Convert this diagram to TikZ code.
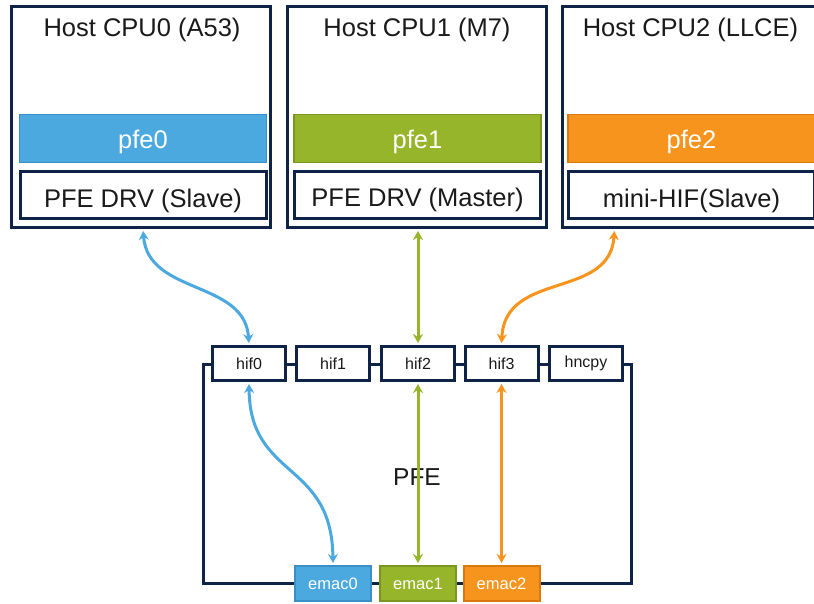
\documentclass[tikz,border=0pt]{standalone}
\usepackage{fontspec}
\setmainfont{Liberation Sans}
\usetikzlibrary{arrows.meta}
\definecolor{navy}{HTML}{0E2346}
\definecolor{pblue}{HTML}{4CA9E0}
\definecolor{pbluedark}{HTML}{3A8FC6}
\definecolor{pgreen}{HTML}{96B52A}
\definecolor{pgreendark}{HTML}{7A9620}
\definecolor{porange}{HTML}{F7941E}
\definecolor{porangedark}{HTML}{DB7A0C}
\definecolor{txt}{HTML}{1A1A1A}
\begin{document}
\begin{tikzpicture}[x=1pt,y=-1pt,
  hostbox/.style={draw=navy, line width=3pt, fill=white, minimum width=259pt, minimum height=221pt, inner sep=0pt},
  bar/.style={line width=1.5pt, minimum width=247pt, minimum height=48pt, inner sep=0pt, text=white, font=\fontsize{25.5}{30}\selectfont, text height=21pt, text depth=0pt},
  drvbox/.style={draw=navy, line width=3pt, fill=white, minimum width=246pt, minimum height=47pt, inner sep=0pt, text=txt, font=\fontsize{25.5}{30}\selectfont, text height=23.5pt, text depth=0pt},
  hosttitle/.style={anchor=base, text=txt, font=\fontsize{25.5}{30}\selectfont},
  pfebox/.style={draw=navy, line width=3pt, minimum width=428pt, minimum height=219pt, inner sep=0pt, text=txt, font=\fontsize{24.5}{29}\selectfont, text height=23.5pt, text depth=0pt},
  hifbox/.style={draw=navy, line width=3pt, fill=white, minimum width=73pt, minimum height=34pt, inner sep=0pt, text=txt, font=\fontsize{16}{19}\selectfont},
  emacbox/.style={line width=2pt, minimum width=76pt, minimum height=35pt, inner sep=0pt, text=white, font=\fontsize{16.5}{19}\selectfont},
  link/.style={line width=3pt, {Stealth[length=9pt,width=10pt]}-{Stealth[length=9pt,width=10pt]}, shorten <=2pt, shorten >=2pt}
]
\clip (0,0) rectangle (814,604);
\fill[white] (0,0) rectangle (814,604);

% host boxes
\node[hostbox] (cpu0) at (141,117) {};
\node[hostbox] (cpu1) at (417,117) {};
\node[hostbox] (cpu2) at (691.5,117) {};

\node[hosttitle] (t0) at (142,37) {Host CPU0 (A53)};
\node[hosttitle] (t1) at (417,37) {Host CPU1 (M7)};
\node[hosttitle] (t2) at (690.5,37) {Host CPU2 (LLCE)};

\node[bar, fill=pblue, draw=pbluedark] (pfe0) at (143,138.5) {pfe0};
\node[bar, fill=pgreen, draw=pgreendark] (pfe1) at (417.5,138.5) {pfe1};
\node[bar, fill=porange, draw=porangedark] (pfe2) at (691.5,138.5) {pfe2};

\node[drvbox] (drv0) at (143,195.5) {PFE DRV (Slave)};
\node[drvbox] (drv1) at (417.5,195) {PFE DRV (Master)};
\node[drvbox] (drv2) at (691.5,195.5) {mini-HIF(Slave)};

% PFE block
\node[pfebox] (pfe) at (417,473.5) {PFE};

\node[hifbox] (hif0) at (249,363.5) {hif0};
\node[hifbox] (hif1) at (333,363.5) {hif1};
\node[hifbox] (hif2) at (418,363.5) {hif2};
\node[hifbox] (hif3) at (501.5,363.5) {hif3};
\node[hifbox] (hncpy) at (586,363.5) {hncpy};

\node[emacbox, fill=pblue, draw=pbluedark] (emac0) at (333,583.5) {emac0};
\node[emacbox, fill=pgreen, draw=pgreendark] (emac1) at (418,583.5) {emac1};
\node[emacbox, fill=porange, draw=porangedark] (emac2) at (501.5,583.5) {emac2};

% links
\draw[link, pblue] (cpu0.south -| drv0.south) .. controls (148,295) and (245,280) .. (hif0.north);
\draw[link, pgreen] (cpu1.south -| hif2.north) -- (hif2.north);
\draw[link, porange] ([xshift=-77pt]cpu2.south) .. controls (610,300) and (505,270) .. (hif3.north);

\draw[link, pblue] (hif0.south) .. controls (250,480) and (332,460) .. (emac0.north);
\draw[link, pgreen] (hif2.south) -- (emac1.north);
\draw[link, porange] (hif3.south) -- (emac2.north);
\end{tikzpicture}
\end{document}
